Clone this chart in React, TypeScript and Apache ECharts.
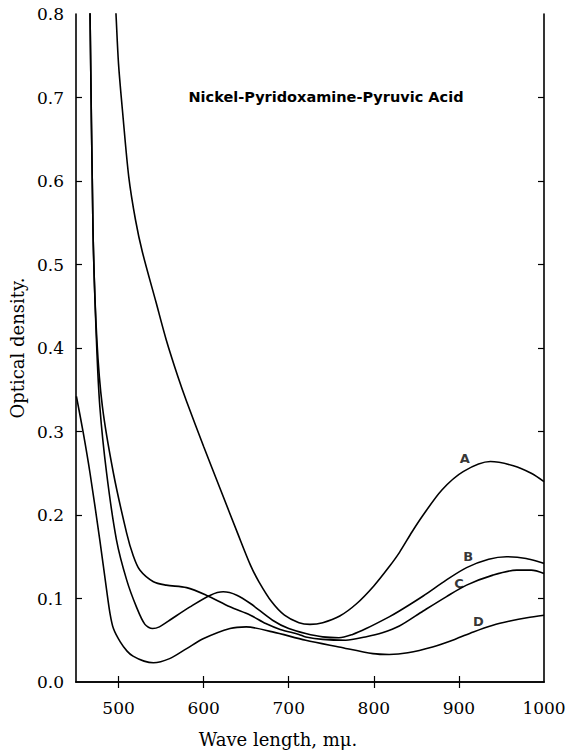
import React, { useEffect, useRef } from "react";
import * as echarts from "echarts";

// Wavelength ticks (mμ) and optical density ticks
const xTickLabels = [500, 600, 700, 800, 900, 1000];
const xInnerTicks = [500, 600, 700, 800, 900];
const yInnerTicks = [0.1, 0.2, 0.3, 0.4, 0.5, 0.6, 0.7];

const curveNames = ["A", "B", "C", "D"];

// Curve A
const curveA: [number, number][] = [
  [495.5, 0.83], [497, 0.8], [500, 0.74], [505, 0.68], [512, 0.605], [520, 0.553],
  [528, 0.515], [544, 0.455], [556, 0.41], [570, 0.365], [580, 0.336], [600, 0.282],
  [620, 0.23], [640, 0.178], [655, 0.14], [665, 0.12], [680, 0.096], [695, 0.08],
  [712, 0.071], [725, 0.069], [740, 0.071], [760, 0.079], [780, 0.094], [800, 0.115],
  [818, 0.138], [830, 0.155], [845, 0.18], [858, 0.2], [880, 0.23], [905, 0.252],
  [937, 0.264], [964, 0.259], [985, 0.25], [1000, 0.24],
];

// Curve B
const curveB: [number, number][] = [
  [465.5, 0.83], [466.5, 0.8], [470, 0.54], [474, 0.41], [478, 0.33], [486, 0.25],
  [497.6, 0.17], [509.6, 0.122], [521, 0.09], [531, 0.069], [540, 0.064], [548, 0.066],
  [560, 0.074], [584, 0.09], [608, 0.104], [623, 0.108], [639, 0.104], [655, 0.094],
  [681, 0.074], [700, 0.064], [720, 0.058], [740, 0.054], [759, 0.053], [775, 0.057],
  [791, 0.064], [818, 0.078], [830, 0.085], [858, 0.103], [885, 0.122], [909, 0.137],
  [935, 0.147], [956, 0.15], [979, 0.148], [1000, 0.142],
];

// Curve C
const curveC: [number, number][] = [
  [465.5, 0.83], [466.5, 0.8], [470, 0.54], [474.5, 0.41], [481, 0.33], [494, 0.25],
  [509.6, 0.178], [517, 0.152], [525, 0.134], [541, 0.12], [556, 0.116], [580, 0.113],
  [603, 0.104], [631, 0.09], [655, 0.08], [673, 0.07], [690, 0.063], [712, 0.057],
  [720, 0.054], [740, 0.051], [767, 0.05], [790, 0.054], [810, 0.059], [830, 0.067],
  [858, 0.085], [885, 0.102], [909, 0.116], [940, 0.128], [968, 0.134], [985, 0.134],
  [1000, 0.13],
];

// Curve D
const curveD: [number, number][] = [
  [450.5, 0.342], [458.6, 0.298], [466.5, 0.25], [478, 0.17], [486, 0.11], [490, 0.082],
  [494, 0.064], [502, 0.048], [510, 0.037], [517, 0.031], [530, 0.025], [541, 0.023],
  [560, 0.028], [580, 0.04], [600, 0.052], [631, 0.064], [650, 0.066], [681, 0.06],
  [720, 0.05], [759, 0.042], [799, 0.034], [818, 0.033], [840, 0.035], [869, 0.042],
  [895, 0.051], [917, 0.06], [940, 0.068], [960, 0.073], [980, 0.077], [1000, 0.08],
];

const curves = [curveA, curveB, curveC, curveD];

// Where each curve's letter sits (wavelength, optical density)
const curveLabelAnchors: [number, number][] = [
  [907, 0.268], [911, 0.15], [900, 0.118], [923, 0.072],
];

const titleText = "Nickel-Pyridoxamine-Pyruvic Acid";
const xAxisName = "Wave length, mμ.";
const yAxisName = "Optical density.";

export default function App() {
  const ref = useRef<HTMLDivElement>(null);
  useEffect(() => {
    document.body.style.margin = "0";
    if (!ref.current) return;
    const chart = echarts.init(ref.current, undefined, { renderer: "svg" });
    const axisLine = { show: true, lineStyle: { color: "#000", width: 1.6 } };
    const serif = "DejaVu Serif";
    const option: any = {
      animation: false,
      backgroundColor: "#fff",
      grid: { left: 76, right: 25, top: 14, bottom: 70, containLabel: false },
      xAxis: [
        {
          type: "value", min: 450, max: 1000, position: "bottom",
          axisLine, splitLine: { show: false },
          axisTick: { show: true, inside: true, length: 6, customValues: xInnerTicks, lineStyle: { color: "#000", width: 1.2 } },
          axisLabel: { show: true, customValues: xTickLabels, color: "#000", fontFamily: serif, fontSize: 17, margin: 17, formatter: (v: number) => String(v) },
        },
        {
          type: "value", min: 450, max: 1000, position: "top",
          axisLine, splitLine: { show: false },
          axisTick: { show: true, inside: true, length: 6, customValues: xInnerTicks, lineStyle: { color: "#000", width: 1.2 } },
          axisLabel: { show: false },
        },
      ],
      yAxis: [
        {
          type: "value", min: 0, max: 0.8, interval: 0.1, position: "left",
          axisLine, splitLine: { show: false },
          axisTick: { show: true, inside: true, length: 6, customValues: yInnerTicks, lineStyle: { color: "#000", width: 1.2 } },
          axisLabel: { show: true, color: "#000", fontFamily: serif, fontSize: 17, margin: 12, formatter: (v: number) => v.toFixed(1) },
          name: yAxisName, nameLocation: "middle", nameGap: 48, nameRotate: 90,
          nameTextStyle: { color: "#000", fontFamily: serif, fontSize: 18 },
        },
        {
          type: "value", min: 0, max: 0.8, interval: 0.1, position: "right",
          axisLine, splitLine: { show: false },
          axisTick: { show: true, inside: true, length: 6, customValues: yInnerTicks, lineStyle: { color: "#000", width: 1.2 } },
          axisLabel: { show: false },
        },
      ],
      graphic: [
        {
          type: "text", x: 326, y: 97,
          style: { text: titleText, font: "bold 14.5px 'DejaVu Sans'", fill: "#000", textAlign: "center", textVerticalAlign: "middle" },
        },
        {
          type: "text", x: 278, y: 739,
          style: { text: xAxisName, font: `18px '${serif}'`, fill: "#000", textAlign: "center", textVerticalAlign: "middle" },
        },
      ],
      series: [
        ...curves.map((d, i) => ({
          type: "line", name: curveNames[i], data: d, xAxisIndex: 0, yAxisIndex: 0,
          smooth: 0.3, showSymbol: false, symbol: "none", clip: true, silent: true,
          lineStyle: { color: "#000", width: 1.6 },
        })),
        {
          type: "scatter", xAxisIndex: 0, yAxisIndex: 0, symbolSize: 1, silent: true,
          itemStyle: { color: "rgba(0,0,0,0)" },
          data: curveLabelAnchors.map((p, i) => ({ value: p, name: curveNames[i] })),
          label: { show: true, position: "inside", formatter: "{b}", color: "#000", fontFamily: "DejaVu Sans", fontWeight: "bold", fontSize: 13 },
        },
      ],
    };
    chart.setOption(option);
    return () => chart.dispose();
  }, []);
  return <div ref={ref} style={{ width: 569, height: 752 }} />;
}
